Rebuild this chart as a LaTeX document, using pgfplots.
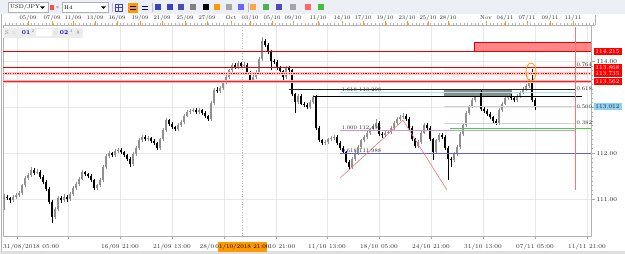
\documentclass[border=0pt]{standalone}
\usepackage{pgfplots}
\pgfplotsset{compat=1.18}
\usepackage{pgfplotstable}
\definecolor{upc}{RGB}{145,145,145}
\definecolor{mtred}{RGB}{235,0,0}
\definecolor{salmonc}{RGB}{255,135,135}
\definecolor{skyb}{RGB}{140,210,245}
\definecolor{violetl}{RGB}{205,150,215}
\definecolor{blueln}{RGB}{95,95,225}
\definecolor{greenln}{RGB}{60,215,60}
\definecolor{cyanln}{RGB}{150,235,235}
\definecolor{tbbg}{RGB}{236,239,245}
\definecolor{mtorange}{RGB}{255,153,0}
\definecolor{pinkln}{RGB}{240,120,120}
\newcommand\tf{\fontsize{6}{7}\selectfont}
\newcommand\smallf{\fontsize{5.5}{6}\selectfont}
\pgfplotsset{
  wick/.style={draw=none, mark=none, forget plot,
    error bars/.cd, y dir=plus, y explicit, error mark=none,
    error bar style={solid, line width=0.45pt, draw=#1}},
  body/.style={draw=none, mark=none, forget plot,
    error bars/.cd, y dir=plus, y explicit, error mark=none,
    error bar style={solid, line width=1.1pt, draw=#1}},
}
% bullish candles (close >= open)
\pgfplotstableread{
x o h l c
4 111.00 111.12 110.77 111.06
13 110.98 111.09 110.95 111.05
16 111.05 111.14 111.01 111.10
19 111.10 111.19 111.06 111.14
22 111.14 111.34 111.10 111.30
25 111.30 111.50 111.26 111.46
28 111.46 111.57 111.42 111.52
31 111.52 111.70 111.48 111.64
37 111.58 111.65 111.54 111.60
55 110.62 110.83 110.57 110.78
58 110.78 111.08 110.74 111.03
64 110.98 111.11 110.94 111.06
70 111.00 111.16 110.96 111.12
73 111.12 111.29 111.08 111.25
76 111.25 111.38 111.21 111.33
79 111.33 111.49 111.29 111.45
82 111.45 111.64 111.41 111.59
97 111.25 111.34 111.21 111.30
100 111.30 111.46 111.26 111.42
103 111.42 111.74 111.38 111.70
106 111.70 111.98 111.66 111.94
109 111.94 112.05 111.90 112.00
115 111.96 112.09 111.92 112.05
118 112.05 112.12 112.01 112.08
133 111.76 112.02 111.72 111.98
136 111.98 112.16 111.94 112.12
139 112.12 112.33 112.08 112.29
142 112.29 112.40 112.25 112.36
148 112.30 112.37 112.26 112.33
160 112.11 112.34 112.07 112.30
163 112.30 112.54 112.26 112.50
166 112.50 112.76 112.46 112.72
178 112.52 112.66 112.48 112.62
181 112.62 112.72 112.58 112.68
184 112.68 112.86 112.64 112.82
187 112.82 112.94 112.78 112.90
190 112.90 112.97 112.86 112.93
193 112.93 112.99 112.89 112.95
199 112.90 112.98 112.86 112.94
211 112.74 113.14 112.70 113.10
214 113.10 113.42 113.06 113.38
220 113.35 113.46 113.31 113.42
223 113.42 113.59 113.38 113.55
226 113.55 113.70 113.51 113.66
229 113.66 113.84 113.62 113.80
232 113.80 113.96 113.76 113.92
238 113.88 114.00 113.84 113.96
244 113.90 113.98 113.86 113.93
253 113.60 113.70 113.56 113.66
256 113.66 113.81 113.62 113.77
259 113.77 114.09 113.73 114.05
262 114.05 114.53 114.01 114.45
286 113.66 113.89 113.62 113.85
298 113.12 113.29 113.08 113.25
310 113.01 113.16 112.97 113.12
313 113.12 113.26 113.08 113.22
325 112.22 112.29 112.18 112.25
328 112.25 112.34 112.21 112.30
331 112.30 112.37 112.26 112.33
334 112.33 112.40 112.29 112.36
352 111.70 111.92 111.66 111.88
355 111.88 112.04 111.84 112.00
358 112.00 112.18 111.96 112.14
361 112.14 112.32 112.10 112.28
364 112.28 112.40 112.24 112.36
367 112.36 112.48 112.32 112.44
370 112.44 112.56 112.40 112.52
373 112.52 112.64 112.48 112.60
376 112.60 112.75 112.56 112.66
385 112.40 112.49 112.36 112.45
388 112.45 112.51 112.41 112.47
391 112.47 112.59 112.43 112.55
394 112.55 112.70 112.51 112.66
397 112.66 112.78 112.62 112.74
400 112.74 112.83 112.70 112.79
403 112.79 112.88 112.75 112.82
418 112.16 112.28 112.12 112.24
421 112.24 112.49 112.20 112.45
424 112.45 112.66 112.41 112.62
436 112.02 112.32 111.98 112.28
439 112.28 112.44 112.24 112.40
454 111.85 112.02 111.81 111.98
457 111.98 112.18 111.94 112.14
460 112.14 112.46 112.10 112.42
463 112.42 112.66 112.38 112.62
466 112.62 112.92 112.58 112.88
469 112.88 113.06 112.84 113.02
472 113.02 113.20 112.98 113.16
475 113.16 113.31 113.12 113.27
478 113.27 113.40 113.23 113.33
499 112.66 112.98 112.62 112.94
502 112.94 113.12 112.90 113.08
505 113.08 113.24 113.04 113.20
508 113.20 113.28 113.16 113.24
517 113.16 113.29 113.12 113.25
520 113.25 113.36 113.21 113.32
523 113.32 113.44 113.28 113.40
526 113.40 113.50 113.36 113.46
529 113.46 113.62 113.42 113.55
}\upcandles
% bearish candles (close < open)
\pgfplotstableread{
x o h l c
7 111.06 111.10 110.98 111.02
10 111.02 111.06 110.93 110.98
34 111.64 111.68 111.53 111.58
40 111.60 111.63 111.45 111.49
43 111.49 111.53 111.34 111.38
46 111.38 111.42 111.18 111.22
49 111.22 111.26 110.90 110.95
52 110.95 110.99 110.48 110.62
61 111.03 111.07 110.93 110.98
67 111.06 111.09 110.95 111.00
85 111.59 111.62 111.50 111.55
88 111.55 111.58 111.46 111.50
91 111.50 111.54 111.38 111.42
94 111.42 111.45 111.20 111.25
112 112.00 112.03 111.91 111.96
121 112.08 112.11 111.98 112.02
124 112.02 112.05 111.92 111.96
127 111.96 111.99 111.84 111.88
130 111.88 111.92 111.70 111.76
145 112.36 112.39 112.26 112.30
151 112.33 112.36 112.23 112.27
154 112.27 112.30 112.18 112.22
157 112.22 112.25 112.07 112.11
169 112.72 112.75 112.60 112.64
172 112.64 112.67 112.53 112.57
175 112.57 112.60 112.48 112.52
196 112.95 112.98 112.86 112.90
202 112.94 112.97 112.84 112.88
205 112.88 112.91 112.76 112.80
208 112.80 112.83 112.70 112.74
217 113.38 113.44 113.31 113.35
235 113.92 113.96 113.84 113.88
241 113.96 113.99 113.86 113.90
247 113.93 113.96 113.70 113.74
250 113.74 113.78 113.56 113.60
265 114.45 114.49 114.31 114.35
268 114.35 114.39 114.16 114.20
271 114.20 114.24 113.80 114.00
274 114.00 114.06 113.95 113.99
277 113.99 114.03 113.82 113.86
280 113.86 113.90 113.74 113.78
283 113.78 113.82 113.58 113.66
289 113.85 113.90 113.76 113.80
292 113.80 113.84 113.24 113.28
295 113.28 113.32 112.87 113.12
301 113.25 113.29 113.04 113.08
304 113.08 113.12 113.01 113.05
307 113.05 113.09 112.97 113.01
316 113.22 113.26 112.51 112.55
319 112.55 112.59 112.24 112.28
322 112.28 112.32 112.18 112.22
337 112.36 112.40 112.18 112.22
340 112.22 112.26 112.08 112.12
343 112.12 112.16 111.98 112.02
346 112.02 112.06 111.78 111.82
349 111.82 111.86 111.64 111.70
379 112.66 112.70 112.38 112.42
382 112.42 112.46 112.34 112.40
406 112.82 112.86 112.70 112.74
409 112.74 112.78 112.51 112.55
412 112.55 112.59 112.26 112.30
415 112.30 112.34 112.12 112.16
427 112.62 112.66 112.51 112.55
430 112.55 112.59 112.26 112.30
433 112.30 112.34 111.85 112.02
442 112.40 112.44 112.31 112.35
445 112.35 112.39 112.08 112.12
448 112.12 112.16 111.42 111.88
451 111.88 111.92 111.70 111.85
481 113.33 113.37 112.92 112.96
484 112.96 113.00 112.88 112.92
487 112.92 112.96 112.81 112.85
490 112.85 112.89 112.74 112.78
493 112.78 112.82 112.66 112.70
496 112.70 112.74 112.61 112.66
511 113.24 113.28 113.16 113.20
514 113.20 113.24 113.12 113.16
532 113.55 113.83 113.12 113.16
535 113.16 113.20 112.95 113.01
}\dncandles
\begin{document}
\begin{tikzpicture}
\useasboundingbox (0,0) rectangle (625pt,254pt);
\fill[white] (0,0) rectangle (625pt,254pt);
\begin{scope}[x=1pt,y=-1pt,yshift=254pt]
  % toolbar
  \fill[tbbg] (0,0) rectangle (625,14);
  \draw[gray!40] (0,14) -- (625,14);
  \draw[gray!60, fill=white] (8,2.5) rectangle (48,12);
  \node[anchor=west, font=\smallf, inner sep=0] at (10,7.3) {USD/JPY};
  \fill[black] (40,6.5) -- (45,6.5) -- (42.5,9) -- cycle;
  \fill[red!70] (50,5) rectangle (54,10);
  \fill[gray!70] (56,6.5) -- (59,6.5) -- (57.5,8.5) -- cycle;
  \draw[gray!60, fill=white] (62,2.5) rectangle (108,12);
  \node[anchor=west, font=\smallf, inner sep=0] at (64,7.3) {H4};
  \fill[black] (101,6.5) -- (106,6.5) -- (103.5,9) -- cycle;
  \draw[blue!50!gray] (115,4) rectangle (122,11);
  \draw[blue!50!gray] (118.5,4) -- (118.5,11) (115,7.5) -- (122,7.5);
  \fill[mtorange] (128,3) rectangle (138,13);
  \fill[blue!60!black] (130,6.5) rectangle (136,7.5);
  \fill[blue!60!black] (130,9) rectangle (136,10);
  \fill[blue!60!black] (142,6.5) rectangle (148,7.5);
  \fill[blue!60!black] (142,9) rectangle (148,10);
  \foreach \xx/\cc in {155/blue!50!gray, 167/blue!50!gray, 178/blue!40!gray, 190/gray, 203/black, 214/orange!80!yellow, 226/gray!70, 238/blue!60, 250/orange!70, 263/green!40!gray, 276/blue!40!gray, 290/gray!70, 305/red!60, 318/green!50!gray}
    {\fill[\cc] (\xx,4.5) rectangle ++(6,6);}
  \draw[gray!50] (112,3) -- (112,12) (152,3) -- (152,12) (248,3) -- (248,12);
  % ruler
  \fill[white] (0,14.5) rectangle (625,25);
  \foreach \xx/\tt in {28/{05/09},52/{07/09},73/{11/09},95/{13/09},117/{16/09},140/{19/09},162/{21/09},185/{25/09},207/{27/09},231/{Oct},250/{03/10},272/{05/10},293/{09/10},318/{11/10},342/{14/10},363/{17/10},385/{19/10},407/{23/10},428/{25/10},448/{28/10},486/{Nov},505/{04/11},527/{07/11},550/{09/11},573/{11/11}}
    {\node[font=\smallf, inner sep=0, text=black!85] at (\xx,18) {\tt};
     \draw[mtorange, line width=0.9pt] (\xx,21.5) -- (\xx,25);}
  \foreach \xx in {5,8.7,...,595} {\draw[gray!55, line width=0.3pt] (\xx,23) -- (\xx,25);}
  \draw[gray!60] (3,25) -- (595,25);
  \draw[gray!60] (595,15) -- (595,25);
  % frame
  \fill[gray!25] (0,251) rectangle (625,254);
  \draw[gray!60, line width=1pt] (1.5,14) -- (1.5,251);
\end{scope}
\begin{axis}[
  at={(3pt,18pt)}, anchor=south west,
  scale only axis, width=588pt, height=211pt,
  xmin=3, xmax=591, ymin=110.202, ymax=114.789,
  axis line style={gray!60, line width=0.6pt},
  xtick={17,68.5,120,172,224,276,327,379,431,483,535,587},
  xticklabels={},
  minor x tick num=3,
  ytick={111,112,113,114},
  yticklabels={111.00,112.00,,114.00},
  minor y tick num=9,
  tick align=outside,
  xtick pos=bottom, ytick pos=right, yticklabel pos=right,
  major tick length=3.5pt, minor tick length=2pt,
  tick style={gray!70, line width=0.4pt},
  grid=major, major grid style={gray!18, line width=0.5pt},
  yticklabel style={font=\tf, text=black!85, xshift=-1.5pt},
  clip=true,
]
% background objects
\addplot[fill=gray!7, draw=none] coordinates {(444,113.562) (444,113.868) (575,113.868) (575,113.562)} -- cycle;
\addplot[fill=gray!90, draw=none] coordinates {(444,113.24) (444,113.39) (512,113.39) (512,113.24)} -- cycle;
\addplot[fill=salmonc, draw=mtred, line width=0.8pt] coordinates {(474,114.215) (474,114.413) (591,114.413) (591,114.215)} -- cycle;
\addplot[gray!60, dotted, line width=0.6pt] coordinates {(242,110.202) (242,114.789)};
% candles: wicks
\addplot[wick=upc] table[x=x, y=l, y error plus expr={\thisrow{h}-\thisrow{l}}] {\upcandles};
\addplot[wick=black] table[x=x, y=l, y error plus expr={\thisrow{h}-\thisrow{l}}] {\dncandles};
% candles: bodies
\addplot[body=upc] table[x=x, y=o, y error plus expr={\thisrow{c}-\thisrow{o}}] {\upcandles};
\addplot[body=black] table[x=x, y=c, y error plus expr={\thisrow{o}-\thisrow{c}}] {\dncandles};
% horizontal levels
\addplot[mtred, line width=0.9pt] coordinates {(3,114.215) (591,114.215)};
\addplot[mtred, line width=0.9pt] coordinates {(3,113.868) (591,113.868)};
\addplot[red!22, line width=3.5pt] coordinates {(3,113.735) (591,113.735)};
\addplot[mtred, line width=1.5pt, dash pattern=on 1.2pt off 1.2pt] coordinates {(3,113.735) (591,113.735)};
\addplot[red!30, line width=2.5pt] coordinates {(3,113.562) (591,113.562)};
\addplot[mtred!85, line width=0.8pt] coordinates {(3,113.562) (591,113.562)};
\addplot[black!85, line width=1pt] coordinates {(289,113.39) (575,113.39)};
\addplot[cyanln, line width=0.8pt] coordinates {(340,113.318) (575,113.318)};
\addplot[black, line width=1pt] coordinates {(313,113.24) (582,113.24)};
\addplot[gray!35, line width=0.5pt] coordinates {(444,113.012) (575,113.012)};
\addplot[gray!35, line width=0.5pt] coordinates {(444,112.66) (575,112.66)};
\addplot[greenln, line width=1.4pt] coordinates {(450,112.535) (591,112.535)};
\addplot[violetl, line width=0.8pt] coordinates {(340,112.49) (575,112.49)};
\addplot[blueln, line width=0.8pt] coordinates {(340,111.988) (591,111.988)};
% diagonal lines
\addplot[pinkln, line width=0.6pt] coordinates {(340,111.46) (403,112.72) (447,111.20)};
% vertical red line
\addplot[pinkln, line width=0.8pt] coordinates {(575.5,111.21) (575.5,114.75)};
% ellipse
\draw[mtorange, line width=0.8pt] (axis cs:531,113.767) ellipse [x radius=5pt, y radius=9pt];
% fib texts
\node[anchor=south west, font=\smallf, inner sep=0.3pt, text=black!85] at (axis cs:341,113.325) {1.618 113.298};
\node[anchor=south west, font=\smallf, inner sep=0.3pt, text=black!85] at (axis cs:341,112.50) {1.000 112.496};
\node[anchor=south west, font=\smallf, inner sep=0.3pt, text=black!85] at (axis cs:341,111.995) {0.618 111.988};
\node[anchor=south west, font=\smallf, inner sep=0.3pt, text=black!85] at (axis cs:576,113.875) {0.764};
\node[anchor=west, font=\smallf, inner sep=0.3pt, text=black!85] at (axis cs:576,113.40) {0.618};
\node[anchor=west, font=\smallf, inner sep=0.3pt, text=black!85] at (axis cs:576,113.012) {0.500};
\node[anchor=west, font=\smallf, inner sep=0.3pt, text=black!85] at (axis cs:576,112.66) {0.382};
\end{axis}
\begin{scope}[x=1pt,y=-1pt,yshift=254pt]
  % widget
  \fill[gray!14] (3,28) rectangle (83,38);
  \node[font=\smallf, inner sep=0, text=gray] at (7,33) {S};
  \node[font=\smallf, inner sep=0, text=gray] at (14,33) {::};
  \node[font=\tf\bfseries, inner sep=0, text=blue!70!black] at (26,33) {01};
  \node[font=\fontsize{4}{4}\selectfont, inner sep=0, text=gray] at (33,31) {2};
  \fill[white] (36,29.5) rectangle (52,36.5);
  \node[font=\smallf, inner sep=0, text=gray] at (56,33) {::};
  \node[font=\tf\bfseries, inner sep=0, text=blue!70!black] at (64,33) {02};
  \node[font=\fontsize{4}{4}\selectfont, inner sep=0, text=gray] at (71,31) {4};
  \node[font=\smallf, inner sep=0, text=gray] at (78,33) {8};
  % right price labels
  \foreach \yy/\tt in {51.4/114.215, 67.4/113.868, 73.8/113.735, 81.5/113.562}
    {\fill[red] (593.5,\yy-3.2) rectangle (622,\yy+3.2);
     \node[font=\tf, text=white, inner sep=0] at (607.5,\yy) {\tt};}
  \fill[skyb] (593.5,103.3) rectangle (622,110.1);
  \node[font=\tf, text=black!85, inner sep=0] at (607.5,106.7) {113.012};
  % bottom time labels
  \node[anchor=west, font=\tf, inner sep=0, text=black!80] at (3,247) {31/08/2018 05:00};
  \foreach \xx/\tt in {120/{16/09 21:00},172/{21/09 13:00},327/{11/10 13:00},379/{18/10 05:00},431/{24/10 21:00},483/{31/10 13:00},535/{07/11 05:00},587/{11/11 21:00}}
    {\node[font=\tf, inner sep=0, text=black!80] at (\xx,247) {\tt};}
  \node[anchor=east, font=\tf, inner sep=0, text=black!80] at (214.5,247) {28/0};
  \node[anchor=west, font=\tf, inner sep=0, text=black!80] at (268.5,247) {10 21:00};
  \fill[mtorange] (218,242) rectangle (267,252);
  \node[font=\fontsize{5.8}{7}\selectfont, inner sep=0, text=black] at (242.5,247) {01/10/2018 21:00};
\end{scope}
\end{tikzpicture}
\end{document}
